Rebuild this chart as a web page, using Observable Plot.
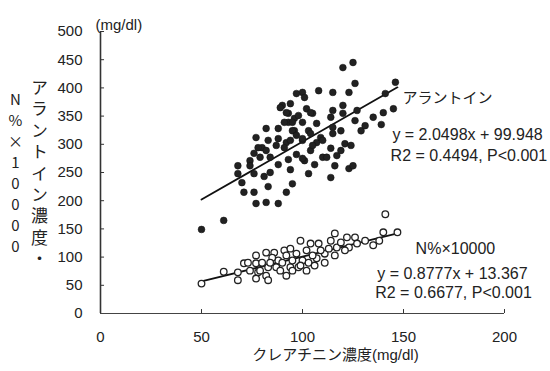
<!DOCTYPE html>
<html>
<head>
<meta charset="utf-8">
<script src="https://cdn.jsdelivr.net/npm/d3@7"></script>
<script src="https://cdn.jsdelivr.net/npm/@observablehq/plot@0.6"></script>
<style>
  body { margin: 0; background: #fff; }
  #wrap { position: relative; width: 550px; height: 371px; overflow: hidden; background: #fff; }
  #wrap svg { position: absolute; left: 0; top: 0; }
  .vt { position: absolute; writing-mode: vertical-rl; font-family: "Noto Sans CJK JP", sans-serif; color: #222; line-height: 1; white-space: nowrap; }
</style>
</head>
<body>
<div id="wrap">
  <div class="vt" id="t1" style="left:31px; top:79px; font-size:17px; letter-spacing:4.4px;"></div>
  <div class="vt" id="t2" style="left:8px; top:92px; font-size:15px; letter-spacing:6px; text-orientation:upright;"></div>
</div>
<script>
// ---- data ----
const xTicks = [0, 50, 100, 150, 200];
const yTicks = [0, 50, 100, 150, 200, 250, 300, 350, 400, 450, 500];

// アラントイン (filled dots): creatinine x, allantoin y
const allantoinX = [50,61,68,68,70,71,76,77,82,88,83,81,76,84,88,92,95,94,93,97,101,103,104,121,116,123,125,114,106,110,112,100,107,120,125,126,146,141,115,108,123,120,127,135,140,145,139,115,114,120,105,102,100,107,115,109,115,103,100,101,90,94,93,96,100,104,96,93,77,80,87,92,100,104,74,78,82,91,74,79,84,76,89,92,91,95,97,98,95,97,117,83,88,94,105,110,114,119,124,129,131,126,119,88,82];
const allantoinY = [149,165,262,248,232,215,215,195,197,195,225,243,248,250,264,215,230,255,273,282,271,248,289,301,262,257,262,241,264,277,277,275,303,436,445,408,410,390,392,395,392,369,360,348,356,363,335,360,348,355,355,363,392,337,330,312,319,324,307,383,369,372,355,346,339,356,324,339,312,294,298,303,310,319,271,294,289,294,262,277,277,284,365,356,339,339,390,351,324,316,280,307,310,307,298,307,293,289,298,324,333,342,324,328,328];

// N%×10000 (open circles)
const nX = [50,61,68,68,71,77,82,86,91,94,77,78,77,82,83,80,87,88,90,92,94,95,85,97,99,100,104,103,108,107,111,114,116,117,122,123,126,127,135,140,141,147,98,95,102,73,79,84,89,92,99,105,109,113,119,121,131,106,102,111,116,74,83,138];
const nY = [53,74,59,73,89,103,108,108,112,115,89,73,62,67,82,90,82,94,90,103,82,76,99,106,129,94,124,90,124,98,106,129,142,117,135,117,135,124,121,144,176,144,82,94,112,90,76,90,76,67,85,103,112,115,126,112,129,85,76,90,103,76,59,129];

// regression line endpoints
const fitAX = [50, 147], fitAY = [202, 401];
const fitNX = [50, 147], fitNY = [57, 142];

const labelA = "アラントイン";
const eqA = "y = 2.0498x + 99.948";
const r2A = "R2 = 0.4494, P<0.001";
const labelN = "N%×10000";
const eqN = "y = 0.8777x + 13.367";
const r2N = "R2 = 0.6677, P<0.001";
const unitY = "(mg/dl)";
const xTitle = "クレアチニン濃度(mg/dl)";
const yTitle1 = "アラントイン濃度・";
const yTitle2 = "N%×10000";

// ---- build ----
const ptsA = allantoinX.map((x, i) => ({x, y: allantoinY[i]}));
const ptsN = nX.map((x, i) => ({x, y: nY[i]}));
const lineA = fitAX.map((x, i) => ({x, y: fitAY[i]}));
const lineN = fitNX.map((x, i) => ({x, y: fitNY[i]}));

const font = "'Liberation Sans', Arial, 'Noto Sans CJK JP', sans-serif";
const ink = "#222";

const chart = Plot.plot({
  width: 550,
  height: 371,
  marginLeft: 100,
  marginRight: 46,
  marginTop: 31,
  marginBottom: 58,
  x: {domain: [0, 200]},
  y: {domain: [0, 500]},
  style: {fontFamily: font, background: "transparent", color: ink},
  marks: [
    Plot.axisY(yTicks, {tickSize: 0, tickPadding: 18, fontSize: 15, label: null, fill: ink}),
    Plot.axisX(xTicks, {tickSize: 0, tickPadding: 18, fontSize: 15, label: null, fill: ink}),
    Plot.ruleY(yTicks.filter(d => d > 0), {y: d => d, x1: 0, x2: 2, stroke: "#333", strokeWidth: 1}),
    Plot.ruleX(xTicks.filter(d => d > 0), {x: d => d, y1: 0, y2: 7, stroke: "#333", strokeWidth: 1}),
    Plot.ruleX([0], {y1: 0, y2: 500, stroke: "#333", strokeWidth: 1.6}),
    Plot.ruleY([0], {x1: 0, x2: 200, stroke: "#444", strokeWidth: 1.2}),
    Plot.line(lineA, {x: "x", y: "y", stroke: "#111", strokeWidth: 1.8}),
    Plot.line(lineN, {x: "x", y: "y", stroke: "#111", strokeWidth: 1.8}),
    Plot.dot(ptsN, {x: "x", y: "y", r: 3.3, fill: "white", stroke: "#222", strokeWidth: 1.3}),
    Plot.dot(ptsA, {x: "x", y: "y", r: 3.4, fill: "#222", stroke: "#111", strokeWidth: 0.5}),
    Plot.text([unitY], {frameAnchor: "top-left", text: d => d, textAnchor: "start", dx: -5, dy: -12, fontSize: 15, fill: ink}),
    Plot.text([xTitle], {frameAnchor: "bottom", text: d => d, dx: 33, dy: 46, fontSize: 15, fill: ink}),
    Plot.text([labelA], {x: 149.5, y: 381, text: d => d, textAnchor: "start", fontSize: 15, fill: ink}),
    Plot.text([eqA], {x: 144.5, y: 316, text: d => d, textAnchor: "start", fontSize: 16, fill: ink}),
    Plot.text([r2A], {x: 143.6, y: 280, text: d => d, textAnchor: "start", fontSize: 16, fill: ink}),
    Plot.text([labelN], {x: 156, y: 115, text: d => d, textAnchor: "start", fontSize: 16, fill: ink}),
    Plot.text([eqN], {x: 137, y: 71, text: d => d, textAnchor: "start", fontSize: 16, fill: ink}),
    Plot.text([r2N], {x: 136, y: 37, text: d => d, textAnchor: "start", fontSize: 16, fill: ink})
  ]
});

document.getElementById("wrap").appendChild(chart);
document.getElementById("t1").textContent = yTitle1;
document.getElementById("t2").textContent = yTitle2;
</script>
</body>
</html>
